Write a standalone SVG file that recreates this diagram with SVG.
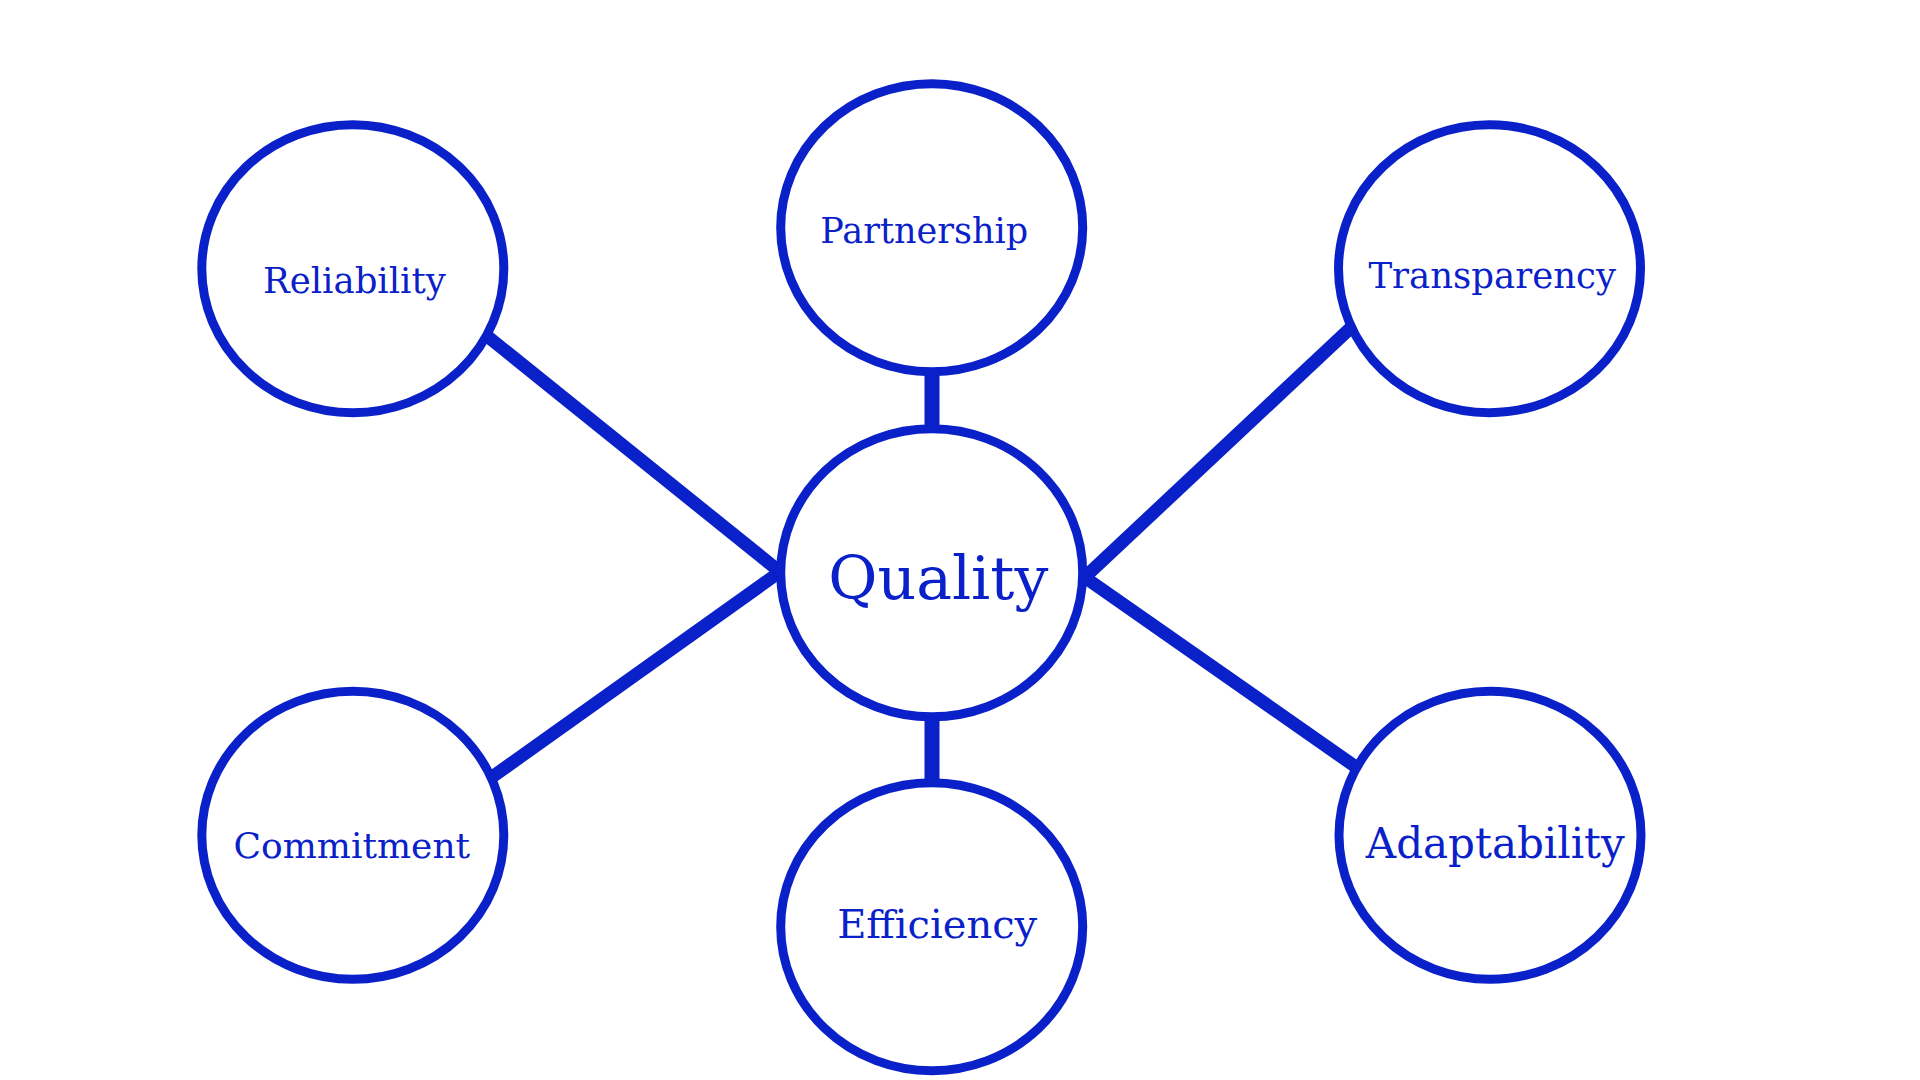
<svg xmlns="http://www.w3.org/2000/svg" width="1920" height="1080" viewBox="0 0 1920 1080">
<style>
.node ellipse{fill:#ffffff;stroke:#0a21c9;stroke-width:9}
.node text{fill:#0a21c9;font-family:"DejaVu Serif","Liberation Serif",serif;text-anchor:middle}
.conn line{stroke:#0a21c9;stroke-linecap:butt}
</style>
<rect width="1920" height="1080" fill="#ffffff"/>
<g id="connectors" class="conn">
<line x1="487" y1="336" x2="779" y2="571" stroke-width="13"/>
<line x1="490" y1="778.5" x2="779" y2="572.5" stroke-width="13"/>
<line x1="1350" y1="328.5" x2="1085" y2="577" stroke-width="13"/>
<line x1="1085" y1="577.5" x2="1356" y2="767" stroke-width="13"/>
<line x1="932" y1="365" x2="932" y2="435" stroke-width="15"/>
<line x1="932" y1="710" x2="932" y2="790" stroke-width="15"/>
</g>
<g id="node-reliability" class="node">
<ellipse cx="352.8" cy="268.7" rx="151" ry="144"/>
<text x="354.4" y="292.7" font-size="35.5">Reliability</text>
</g>
<g id="node-partnership" class="node">
<ellipse cx="931.7" cy="227.7" rx="151" ry="144"/>
<text x="924.2" y="242.7" font-size="35">Partnership</text>
</g>
<g id="node-transparency" class="node">
<ellipse cx="1489.5" cy="268.7" rx="151" ry="144"/>
<text x="1492.2" y="287.7" font-size="35.5">Transparency</text>
</g>
<g id="node-quality" class="node">
<ellipse cx="931.7" cy="572.8" rx="151" ry="144"/>
<text x="938.3" y="599" font-size="60">Quality</text>
</g>
<g id="node-commitment" class="node">
<ellipse cx="352.8" cy="835.3" rx="151" ry="144"/>
<text x="351.8" y="857.7" font-size="36">Commitment</text>
</g>
<g id="node-efficiency" class="node">
<ellipse cx="931.7" cy="926.7" rx="151" ry="144"/>
<text x="937.2" y="937.7" font-size="40">Efficiency</text>
</g>
<g id="node-adaptability" class="node">
<ellipse cx="1490" cy="835.3" rx="151" ry="144"/>
<text x="1495.3" y="858.3" font-size="42">Adaptability</text>
</g>
</svg>
